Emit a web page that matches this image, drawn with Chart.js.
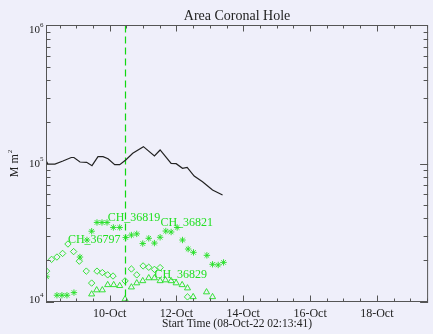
<!DOCTYPE html>
<html>
<head>
<meta charset="utf-8">
<title>Area Coronal Hole</title>
<script src="https://cdn.jsdelivr.net/npm/chart.js@4/dist/chart.umd.min.js"></script>
<style>
  html, body { margin: 0; padding: 0; background: #efeffa; }
  canvas { display: block; }
</style>
</head>
<body>
<canvas id="chart" width="433" height="334"></canvas>
<script>
// x values are day-of-October 2022 (10.0 = 10-Oct 00:00 UT), areas in Mm^2
const startDay = 8 + (2 + 13 / 60 + 41 / 3600) / 24;
const endDay = 19.535;
const markerDay = 10.456;
const majorDays = [10, 12, 14, 16, 18];

const lineDays = [8.10, 8.15, 8.36, 8.60, 8.85, 8.93, 9.11, 9.31, 9.47, 9.65, 9.80, 9.95, 10.15, 10.30,
  10.48, 10.69, 11.01, 11.34, 11.51, 11.84, 11.99, 12.18, 12.32, 12.53, 12.78, 13.08, 13.38];
const lineArea = [104200, 99100, 99100, 104200, 110500, 110500, 102500, 102000, 96400, 112000, 112000, 108300, 98000, 98000,
  106000, 118600, 132500, 113300, 125300, 100300, 99700, 92300, 93800, 81100, 73700, 64200, 59100];

const starDays = [8.11, 8.42, 8.57, 8.72, 8.93, 9.11, 9.32, 9.46, 9.62, 9.77, 9.92, 10.11, 10.30, 10.48, 10.65,
  10.81, 10.99, 11.17, 11.34, 11.51, 11.68, 11.84, 12.02, 12.18, 12.35, 12.51, 12.91, 13.08, 13.25, 13.41];
const starArea = [15100, 11100, 11100, 11100, 11600, 21000, 27900, 32300, 37400, 37400, 37400, 34400, 34400, 29100, 30300,
  30900, 26300, 28700, 26500, 29200, 32400, 31900, 34400, 27900, 24000, 22700, 21600, 18600, 18400, 19200];

const diamondDays = [8.11, 8.26, 8.42, 8.59, 8.75, 8.92, 9.09, 9.30, 9.46, 9.62, 9.78, 9.94, 10.10, 10.46,
  10.65, 10.81, 11.00, 11.17, 11.34, 11.51, 12.33];
const diamondArea = [16600, 20200, 21000, 22300, 26100, 23000, 19600, 16600, 13600, 16600, 16200, 15600, 15300, 14100,
  17200, 15600, 18100, 17700, 17100, 17600, 10800];

const triangleDays = [9.46, 9.61, 9.78, 9.94, 10.12, 10.30, 10.46, 10.65, 10.81, 10.99, 11.17, 11.34, 11.51,
  11.67, 11.84, 11.99, 12.17, 12.33, 12.50, 12.90, 13.08];
const triangleArea = [11300, 12100, 12100, 13200, 13200, 13000, 10400, 12700, 13600, 14100, 14800, 14800, 14100,
  14300, 14100, 13600, 13200, 12500, 10800, 11700, 10800];

const labelNames = ['CH_36797', 'CH_36819', 'CH_36821', 'CH_36829'];
const labelDays = [8.75, 9.94, 11.52, 11.34];
const labelArea = [27900, 40300, 37100, 15600];

const green = '#22e022';
const serif = "'Liberation Serif', 'Times New Roman', serif";
const ink = '#222';

const toXY = (xs, ys) => xs.map((x, i) => ({ x, y: ys[i] }));

const markers = (data, style, radius) => ({
  data,
  showLine: false,
  pointStyle: style,
  pointRadius: radius,
  borderColor: green,
  backgroundColor: 'rgba(0,0,0,0)',
  borderWidth: 0.9,
});

// IDL-like box with inward ticks, superscript labels and CH annotations
const frame = {
  id: 'frame',
  beforeDatasetsDraw(chart) {
    const { ctx, chartArea: a, scales: { x } } = chart;
    const px = Math.round(x.getPixelForValue(markerDay)) + 0.5;
    ctx.save();
    ctx.globalAlpha = 1;
    ctx.strokeStyle = '#10d810';
    ctx.lineWidth = 1.2;
    ctx.setLineDash([7, 4]);
    ctx.beginPath();
    ctx.moveTo(px, a.top);
    ctx.lineTo(px, a.bottom);
    ctx.stroke();
    ctx.restore();
  },
  afterDraw(chart) {
    const { ctx, chartArea: a, scales: { x, y } } = chart;
    ctx.save();
    ctx.setLineDash([]);
    ctx.strokeStyle = '#555';
    ctx.lineWidth = 1;
    ctx.strokeRect(a.left + 0.5, a.top, a.right - a.left - 1, a.bottom - a.top);

    ctx.beginPath();
    for (let d = Math.ceil(startDay * 2) / 2; d <= endDay; d += 0.5) {
      const px = Math.round(x.getPixelForValue(d)) + 0.5;
      const len = d % 2 === 0 ? 6 : 3;
      ctx.moveTo(px, a.bottom); ctx.lineTo(px, a.bottom - len);
      ctx.moveTo(px, a.top); ctx.lineTo(px, a.top + len);
    }
    for (let k = 4; k <= 5; k++) {
      for (let m = 1; m <= 9; m++) {
        const py = Math.round(y.getPixelForValue(m * Math.pow(10, k))) + 0.5;
        const len = m === 1 ? 8 : 4.5;
        ctx.moveTo(a.left, py); ctx.lineTo(a.left + len, py);
        ctx.moveTo(a.right, py); ctx.lineTo(a.right - len, py);
      }
    }
    ctx.stroke();

    // y tick labels 10^4 .. 10^6
    ctx.fillStyle = ink;
    ctx.textBaseline = 'middle';
    [4, 5, 6].forEach(k => {
      let py = y.getPixelForValue(Math.pow(10, k));
      py = Math.min(Math.max(py, a.top + 4), a.bottom - 2);
      ctx.font = `7px ${serif}`;
      ctx.textAlign = 'left';
      ctx.fillText(String(k), a.left - 6, py - 4);
      ctx.font = `11px ${serif}`;
      ctx.textAlign = 'right';
      ctx.fillText('10', a.left - 6, py + 0.5);
    });

    // y axis title
    ctx.save();
    ctx.translate(15, (a.top + a.bottom) / 2);
    ctx.rotate(-Math.PI / 2);
    ctx.font = `12px ${serif}`;
    const w1 = ctx.measureText('M m').width;
    ctx.font = `7px ${serif}`;
    const w2 = ctx.measureText('2').width;
    const start = -(w1 + w2 + 1) / 2;
    ctx.textAlign = 'left';
    ctx.font = `12px ${serif}`;
    ctx.fillText('M m', start, 0);
    ctx.font = `7px ${serif}`;
    ctx.fillText('2', start + w1 + 1, -5);
    ctx.restore();

    // chart title
    ctx.font = `14px ${serif}`;
    ctx.textAlign = 'center';
    ctx.fillText('Area Coronal Hole', (a.left + a.right) / 2, 16);

    // coronal hole labels
    ctx.fillStyle = green;
    ctx.font = `12px ${serif}`;
    ctx.textAlign = 'left';
    labelNames.forEach((name, i) => {
      ctx.fillText(name, x.getPixelForValue(labelDays[i]), y.getPixelForValue(labelArea[i]));
    });
    ctx.restore();
  },
};

new Chart(document.getElementById('chart'), {
  type: 'scatter',
  data: {
    datasets: [
      {
        data: toXY(lineDays, lineArea),
        showLine: true,
        borderColor: ink,
        borderWidth: 1.2,
        pointRadius: 0,
        tension: 0,
      },
      markers(toXY(starDays, starArea), 'star', 3.2),
      markers(toXY(diamondDays, diamondArea), 'rectRot', 3.2),
      markers(toXY(triangleDays, triangleArea), 'triangle', 3.5),
    ],
  },
  options: {
    responsive: false,
    animation: false,
    devicePixelRatio: 1,
    layout: { padding: { top: 25.5, right: 3, left: 0, bottom: 0 } },
    plugins: { legend: { display: false }, tooltip: { enabled: false } },
    scales: {
      x: {
        type: 'linear',
        min: startDay,
        max: endDay,
        grid: { display: false, drawTicks: false },
        border: { display: false },
        afterBuildTicks: s => { s.ticks = majorDays.map(v => ({ value: v })); },
        ticks: {
          callback: v => v + '-Oct',
          font: { family: serif, size: 12 },
          color: ink,
          padding: 5,
          maxRotation: 0,
          autoSkip: false,
        },
        title: {
          display: true,
          text: 'Start Time (08-Oct-22 02:13:41)',
          font: { family: serif, size: 11.5, lineHeight: 1 },
          color: ink,
          padding: { top: 0, bottom: 4 },
        },
        afterFit: s => { s.height = 32.5; },
      },
      y: {
        type: 'logarithmic',
        min: 1e4,
        max: 1e6,
        grid: { display: false, drawTicks: false },
        border: { display: false },
        ticks: { display: false },
        afterFit: s => { s.width = 46; },
      },
    },
  },
  plugins: [frame],
});
</script>
</body>
</html>
